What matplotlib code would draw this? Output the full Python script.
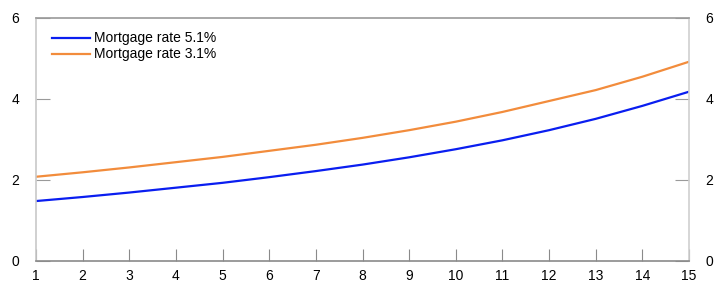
import numpy as np
import matplotlib.pyplot as plt

plt.rcParams.update({
    'font.family': ['Liberation Sans', 'DejaVu Sans'],
    'font.size': 10,
})

years = np.arange(1, 16)
rate_51 = [1.48, 1.58, 1.69, 1.81, 1.93, 2.07, 2.22, 2.38, 2.56, 2.76,
           2.98, 3.23, 3.51, 3.83, 4.18]
rate_31 = [2.08, 2.19, 2.31, 2.44, 2.57, 2.72, 2.87, 3.04, 3.23, 3.44,
           3.68, 3.95, 4.22, 4.55, 4.92]

fig = plt.figure(figsize=(7.22, 2.95), dpi=100)
ax = fig.add_axes([0.0499, 0.1153, 0.9044, 0.8237])

ax.plot(years, rate_51, color='#0a1ef0', linewidth=1.6, label='Mortgage rate 5.1%')
ax.plot(years, rate_31, color='#f28c3c', linewidth=1.6, label='Mortgage rate 3.1%')

ax.set_xlim(1, 15)
ax.set_ylim(0, 6)
ax.set_xticks(years)
ax.set_yticks([0, 2, 4, 6])

ax.spines['left'].set_color('#c8c8c8')
ax.spines['right'].set_color('#d0d0d0')
ax.spines['top'].set_color('#9a9a9a')
ax.spines['bottom'].set_color('#8a8a8a')
for s in ax.spines.values():
    s.set_linewidth(1.2)

ax.tick_params(axis='x', direction='in', length=9, color='#8a8a8a', pad=6)
ax.tick_params(axis='y', direction='in', length=10, color='#9a9a9a',
               left=True, right=True, labelleft=True, labelright=True, pad=12)

ax.legend(loc='upper left', frameon=False, handlelength=2.7, handletextpad=0.3,
          labelspacing=0.15, borderaxespad=0.3, bbox_to_anchor=(0.01, 0.985))

fig.savefig('out.png', dpi=100)
